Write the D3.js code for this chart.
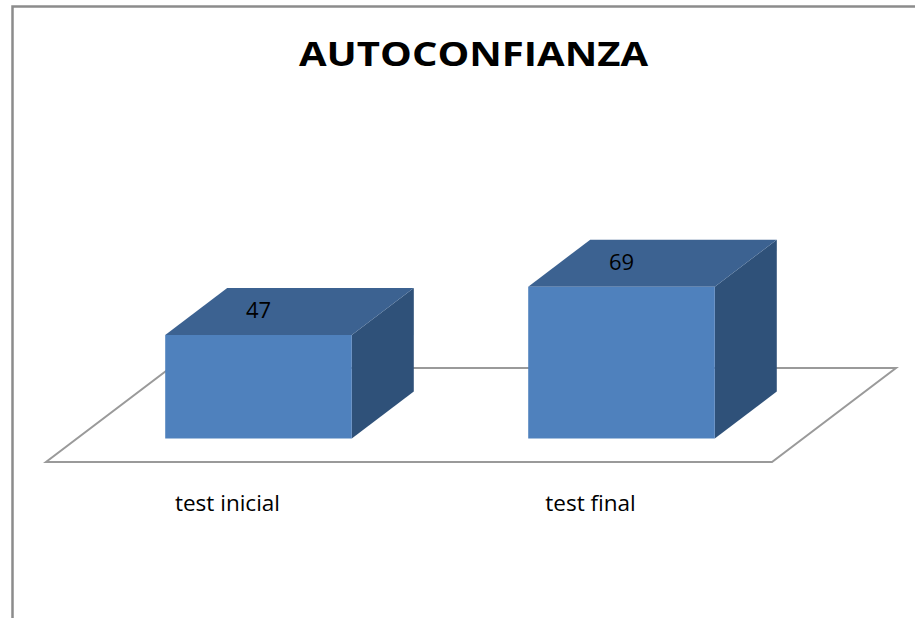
<!DOCTYPE html>
<html>
<head>
<meta charset="utf-8">
<script src="https://cdn.jsdelivr.net/npm/d3@7"></script>
<style>
  html, body { margin: 0; padding: 0; background: #ffffff; }
  svg { display: block; }
</style>
</head>
<body>
<svg id="chart" width="915" height="618"></svg>
<script>
// ---- data ----
const title = "AUTOCONFIANZA";
const categories = ["test inicial", "test final"];
const values = [47, 69];
const valueLabels = ["47", "69"];

// ---- layout ----
const W = 915, H = 618;
const floorFrontY = 462;     // screen y of floor front edge (value 0, depth 0)
const depthDX = 124, depthDY = 94; // full floor depth vector
const barZ0 = 0.25, barZ1 = 0.75;   // bars occupy middle half of the depth

const svg = d3.select("#chart");

// frame
svg.append("path")
  .attr("d", `M12.5,${H} L12.5,6.5 L${W},6.5`)
  .attr("fill", "none")
  .attr("stroke", "#8c8c8c")
  .attr("stroke-width", 2.5);

// title
svg.append("text")
  .attr("x", 473.5).attr("y", 66)
  .attr("text-anchor", "middle")
  .attr("font-family", "'Open Sans', sans-serif")
  .attr("font-weight", "bold")
  .attr("font-size", 34)
  .attr("textLength", 349)
  .attr("lengthAdjust", "spacingAndGlyphs")
  .attr("fill", "#000")
  .text(title);

// scales
const x = d3.scaleBand()
  .domain(categories)
  .range([46, 772])
  .paddingInner(0.486)
  .paddingOuter(0.243);

const yH = d3.scaleLinear().domain([0, 100]).range([0, 220]);

// projection: X (front-plane px), h (height px), z (depth fraction)
function P(X, h, z) {
  return [X + z * depthDX, floorFrontY - h - z * depthDY];
}
const poly = pts => "M" + pts.map(p => p.join(",")).join("L") + "Z";

// floor
const [fx0, fx1] = x.range();
svg.append("path")
  .attr("d", poly([P(fx0, 0, 0), P(fx1, 0, 0), P(fx1, 0, 1), P(fx0, 0, 1)]))
  .attr("fill", "#ffffff")
  .attr("stroke", "#9a9a9a")
  .attr("stroke-width", 2);

// bars
const data = categories.map((c, i) => ({ cat: c, v: values[i], label: valueLabels[i] }));
const g = svg.append("g");
data.forEach(d => {
  const X0 = x(d.cat), X1 = x(d.cat) + x.bandwidth();
  const h = yH(d.v);
  // side face
  g.append("path")
    .attr("d", poly([P(X1, 0, barZ0), P(X1, 0, barZ1), P(X1, h, barZ1), P(X1, h, barZ0)]))
    .attr("fill", "#2f5179");
  // top face
  g.append("path")
    .attr("d", poly([P(X0, h, barZ0), P(X1, h, barZ0), P(X1, h, barZ1), P(X0, h, barZ1)]))
    .attr("fill", "#3c6291");
  // front face
  g.append("path")
    .attr("d", poly([P(X0, 0, barZ0), P(X1, 0, barZ0), P(X1, h, barZ0), P(X0, h, barZ0)]))
    .attr("fill", "#4f81bd");
  // value label
  const c = P((X0 + X1) / 2, h, barZ0);
  g.append("text")
    .attr("x", c[0]).attr("y", c[1] - 17)
    .attr("text-anchor", "middle")
    .attr("font-family", "'Open Sans', sans-serif")
    .attr("font-size", 22)
    .attr("fill", "#000")
    .text(d.label);
});

// category labels
svg.append("g").selectAll("text")
  .data(categories)
  .join("text")
  .attr("x", d => x(d) + x.bandwidth() / 2)
  .attr("y", 511)
  .attr("text-anchor", "middle")
  .attr("font-family", "'Open Sans', sans-serif")
  .attr("font-size", 22.5)
  .attr("fill", "#000")
  .text(d => d);
</script>
</body>
</html>
